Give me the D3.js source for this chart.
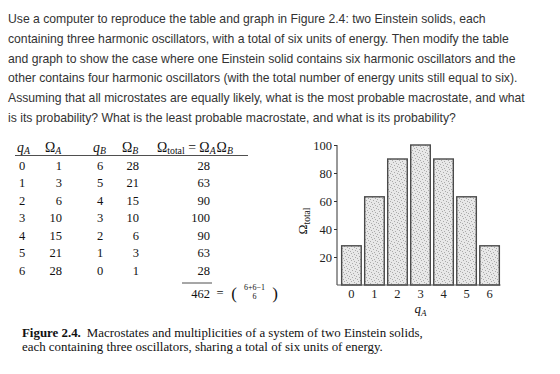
<!DOCTYPE html>
<html><head><meta charset="utf-8">
<script src="https://cdn.jsdelivr.net/npm/d3@7"></script>
<style>body{margin:0;background:#fff}svg{display:block}</style>
</head><body>
<script>
const qA = [0,1,2,3,4,5,6];
const omegaA = [1,3,6,10,15,21,28];
const qB = [6,5,4,3,2,1,0];
const omegaB = [28,21,15,10,6,3,1];
const omegaTotal = [28,63,90,100,90,63,28];
const totalSum = 462;
const yTicks = [20,40,60,80,100];
const paragraph = [
 "Use a computer to reproduce the table and graph in Figure 2.4: two Einstein solids, each",
 "containing three harmonic oscillators, with a total of six units of energy. Then modify the table",
 "and graph to show the case where one Einstein solid contains six harmonic oscillators and the",
 "other contains four harmonic oscillators (with the total number of energy units still equal to six).",
 "Assuming that all microstates are equally likely, what is the most probable macrostate, and what",
 "is its probability? What is the least probable macrostate, and what is its probability?"
];
const captionBold = "Figure 2.4.";
const captionLines = [
 "Macrostates and multiplicities of a system of two Einstein solids,",
 "each containing three oscillators, sharing a total of six units of energy."
];

const W = 560, H = 374;
const svg = d3.select("body").append("svg").attr("width", W).attr("height", H);

// pattern for stippled bars
const defs = svg.append("defs");
const pat = defs.append("pattern").attr("id","stip").attr("patternUnits","userSpaceOnUse")
  .attr("width",7).attr("height",7);
pat.append("rect").attr("width",7).attr("height",7).attr("fill","#e8e8e8");
[[1,1],[4,2],[2,4],[5,5],[0,6],[6,3],[3,0]].forEach(([x,y])=>
  pat.append("rect").attr("x",x).attr("y",y).attr("width",1).attr("height",1).attr("fill","#ababab"));

// paragraph
const sans = "'Liberation Sans', Arial, sans-serif";
svg.append("g").selectAll("text").data(paragraph).join("text")
  .attr("x", 8).attr("y", (d,i)=> 23.3 + i*19.7)
  .attr("font-family", sans).attr("font-size", 12.2).attr("fill", "#333")
  .text(d=>d);

// table
const serif = "'Liberation Serif', 'DejaVu Serif', serif";
const fs = 12.5;
const hfs = 13.8, sfs = 9.8;
const tbl = svg.append("g").attr("font-family", serif).attr("font-size", fs).attr("fill","#111");
function sub(main, subt, x, italicMain){
  const tx = tbl.append("text").attr("x", x).attr("y", 151.5).attr("font-size", hfs);
  tx.append("tspan").attr("font-style", italicMain ? "italic" : null).text(main);
  tx.append("tspan").attr("font-size", sfs).attr("font-style","italic").attr("dy", 2.5).text(subt);
  return tx;
}
sub("q", "A", 17, true);
sub("Ω", "A", 45, false);
sub("q", "B", 93, true);
sub("Ω", "B", 122, false);
const hdr = tbl.append("text").attr("x", 157).attr("y", 151.5).attr("font-size", hfs);
hdr.append("tspan").text("Ω");
hdr.append("tspan").attr("font-size", sfs).attr("dy", 2.5).text("total");
hdr.append("tspan").attr("dy", -2.5).text(" = Ω");
hdr.append("tspan").attr("font-size", sfs).attr("font-style","italic").attr("dy", 2.5).text("A");
hdr.append("tspan").attr("dy", -2.5).attr("dx", 1).text("Ω");
hdr.append("tspan").attr("font-size", sfs).attr("font-style","italic").attr("dy", 2.5).text("B");
tbl.append("line").attr("x1", 15).attr("x2", 248).attr("y1", 155.5).attr("y2", 155.5)
  .attr("stroke", "#222").attr("stroke-width", 0.8);

const rowY = d3.scaleLinear().domain([0,6]).range([169.5, 274.5]);
const rows = d3.range(qA.length);
tbl.append("g").selectAll("text").data(rows).join("text")
  .attr("x", 22).attr("y", i=>rowY(i)).attr("text-anchor","middle").text(i=>qA[i]);
tbl.append("g").selectAll("text").data(rows).join("text")
  .attr("x", 62).attr("y", i=>rowY(i)).attr("text-anchor","end").text(i=>omegaA[i]);
tbl.append("g").selectAll("text").data(rows).join("text")
  .attr("x", 100).attr("y", i=>rowY(i)).attr("text-anchor","middle").text(i=>qB[i]);
tbl.append("g").selectAll("text").data(rows).join("text")
  .attr("x", 139).attr("y", i=>rowY(i)).attr("text-anchor","end").text(i=>omegaB[i]);
tbl.append("g").selectAll("text").data(rows).join("text")
  .attr("x", 210).attr("y", i=>rowY(i)).attr("text-anchor","end").text(i=>omegaTotal[i]);
tbl.append("line").attr("x1", 182).attr("x2", 212).attr("y1", 283).attr("y2", 283)
  .attr("stroke", "#222").attr("stroke-width", 0.8);
tbl.append("text").attr("x", 210).attr("y", 298).attr("text-anchor","end").text(totalSum);
tbl.append("text").attr("x", 220).attr("y", 297).attr("text-anchor","middle").text("=");
tbl.append("text").attr("x", 234).attr("y", 299).attr("font-size", 17).attr("text-anchor","middle").text("(");
tbl.append("text").attr("x", 275).attr("y", 299).attr("font-size", 17).attr("text-anchor","middle").text(")");
tbl.append("text").attr("x", 254.5).attr("y", 290).attr("font-size", 8).attr("text-anchor","middle").text("6+6−1");
tbl.append("text").attr("x", 254.5).attr("y", 299).attr("font-size", 8).attr("text-anchor","middle").text("6");

// chart
const x = d3.scaleBand().domain(qA).range([340.5, 500.5]).paddingInner(0.15).paddingOuter(0.05);
const y = d3.scaleLinear().domain([0,100]).range([285,145]);
const axisX = 337;
const ch = svg.append("g").attr("font-family", serif).attr("font-size", fs).attr("fill","#111");

ch.append("g").selectAll("rect").data(rows).join("rect")
  .attr("x", i=>x(qA[i])).attr("y", i=>y(omegaTotal[i]))
  .attr("width", x.bandwidth()).attr("height", i=>y(0)-y(omegaTotal[i]))
  .attr("fill","url(#stip)").attr("stroke","#4a4a4a").attr("stroke-width",1.4);

const yAxis = ch.append("g").attr("transform", `translate(${axisX},0)`)
  .call(d3.axisLeft(y).tickValues(yTicks).tickSize(3).tickPadding(2));
yAxis.select(".domain").attr("d", `M0,${y(100)}V${y(0)}`).attr("stroke","#333");
yAxis.selectAll(".tick line").attr("stroke","#333");
yAxis.selectAll("text").attr("font-family", serif).attr("font-size", fs).attr("fill","#222");

const xAxis = ch.append("g").attr("transform", `translate(0,${y(0)})`)
  .call(d3.axisBottom(x).tickSize(0).tickPadding(4));
xAxis.select(".domain").attr("d", `M${axisX},0H500.5`).attr("stroke","#555");
xAxis.selectAll("text").attr("font-family", serif).attr("font-size", fs).attr("fill","#222");

const xl = ch.append("text").attr("x", x(3)+x.bandwidth()/2).attr("y", 313).attr("text-anchor","middle").attr("font-size", 13);
xl.append("tspan").attr("font-style","italic").text("q");
xl.append("tspan").attr("font-size", 9).attr("font-style","italic").attr("dy", 2.5).text("A");

const yl = ch.append("text").attr("transform", "translate(307,221) rotate(-90)").attr("text-anchor","middle").attr("font-size", 13.5);
yl.append("tspan").text("Ω");
yl.append("tspan").attr("font-size", 9.5).attr("dy", 2.5).text("total");

// caption
const cap = svg.append("g").attr("font-family", serif).attr("font-size", 12.9).attr("fill","#111");
const cb = cap.append("text").attr("x", 22).attr("y", 336.5).attr("font-weight","bold").text(captionBold);
const bw = cb.node().getComputedTextLength();
cap.append("text").attr("x", 22 + bw + 6).attr("y", 336.5).text(captionLines[0]);
cap.append("text").attr("x", 22).attr("y", 350.5).text(captionLines[1]);
</script>
</body></html>
